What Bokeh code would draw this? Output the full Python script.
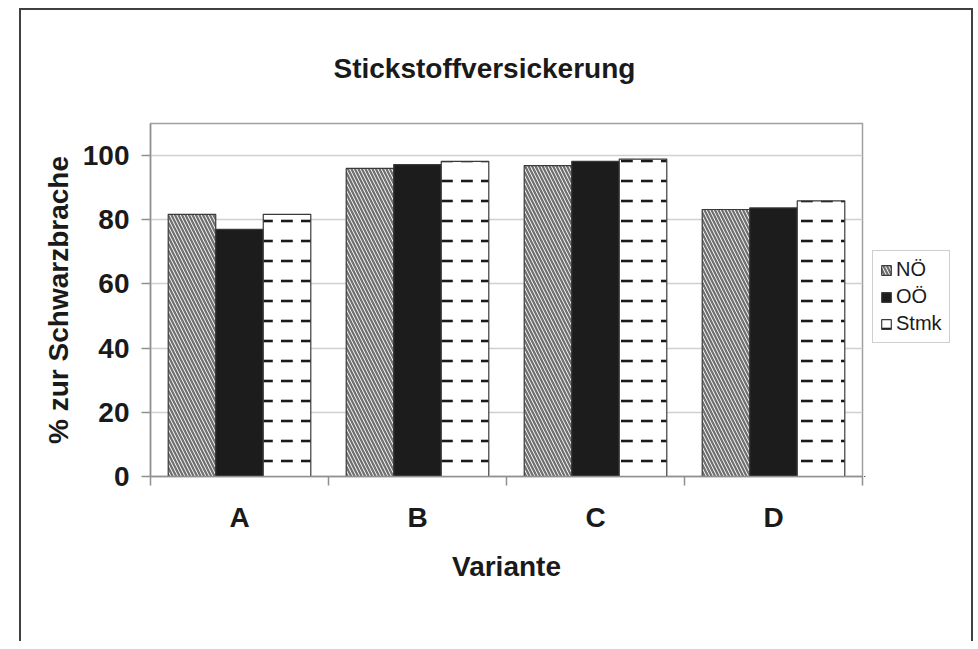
import numpy as np
from bokeh.plotting import figure
from bokeh.layouts import row
from bokeh.models import (ColumnDataSource, FixedTicker, Legend, LegendItem, Range1d, Title)
from bokeh.embed import file_html
from bokeh.resources import INLINE

# ---------------- data ----------------
categories = ["A", "B", "C", "D"]
series_names = ["NÖ", "OÖ", "Stmk"]
noe_values = [81.7, 96.0, 96.9, 83.2]
ooe_values = [77.0, 97.2, 98.2, 83.7]
stmk_values = [81.7, 98.2, 98.9, 85.9]
y_ticks = [0, 20, 40, 60, 80, 100]
title_text = "Stickstoffversickerung"
x_label = "Variante"
y_label = "% zur Schwarzbrache"

FONT = "Liberation Sans"
H = 631
MAIN_W, SIDE_W = 843, 107
BAR_W = 0.267

p = figure(width=MAIN_W, height=H, output_backend="svg", toolbar_location=None,
           x_range=Range1d(-0.5, len(categories) - 0.5), y_range=Range1d(0, 110),
           min_border_left=129, min_border_right=2,
           min_border_top=113, min_border_bottom=165)
p.background_fill_color = "white"
p.border_fill_color = "white"
p.outline_line_color = "#a0a0a0"
p.outline_line_width = 1.5

styles = [
    dict(fill_color="white", hatch_pattern="left_diagonal_line", hatch_color="#707070",
         hatch_scale=7, hatch_weight=2.3),
    dict(fill_color="#1c1c1c"),
    dict(fill_color="white", hatch_pattern="horizontal_dash",
         hatch_color="#1a1a1a", hatch_scale=20, hatch_weight=2.6),
]

xs = np.arange(len(categories))
sources = []
for j, (vals, st) in enumerate(zip([noe_values, ooe_values, stmk_values], styles)):
    src = ColumnDataSource(dict(x=xs + (j - 1) * BAR_W, top=vals))
    sources.append(src)
    p.vbar(x="x", top="top", width=BAR_W, bottom=0, source=src,
           line_color="#3a3a3a", line_width=1.2, **st)

# white-on-white spacer panel right above the plot area (pushes the title upwards)
spacer = Title(text=".", text_font=FONT, text_font_size="28px", text_color="white", standoff=14)
p.add_layout(spacer, "above")

# title (outermost panel above)
p.title.text = title_text
p.title.text_font = FONT
p.title.text_font_size = "28px"
p.title.text_font_style = "bold"
p.title.text_color = "#1a1a1a"
p.title.align = "left"
p.title.offset = 183
p.title.standoff = 10

# x axis
xax = p.xaxis[0]
xax.ticker = FixedTicker(ticks=list(xs), minor_ticks=[i - 0.5 for i in range(len(categories) + 1)])
xax.major_label_overrides = {int(i): c for i, c in zip(xs, categories)}
xax.major_tick_line_color = None
xax.major_tick_out = 8
xax.major_tick_in = 0
xax.minor_tick_out = 9
xax.minor_tick_in = 0
xax.minor_tick_line_color = "#909090"
xax.minor_tick_line_width = 1.5
xax.axis_line_color = "#909090"
xax.axis_line_width = 1.5
xax.major_label_standoff = 16
xax.major_label_text_font = FONT
xax.major_label_text_font_size = "28px"
xax.major_label_text_font_style = "bold"
xax.major_label_text_color = "#1a1a1a"
xax.axis_label = x_label
xax.axis_label_text_font = FONT
xax.axis_label_text_font_size = "28px"
xax.axis_label_text_font_style = "bold"
xax.axis_label_text_color = "#1a1a1a"
xax.axis_label_standoff = 15

# y axis
yax = p.yaxis[0]
yax.ticker = FixedTicker(ticks=y_ticks)
yax.major_tick_out = 9
yax.major_tick_in = 0
yax.major_tick_line_color = "#909090"
yax.major_tick_line_width = 1.5
yax.minor_tick_line_color = None
yax.axis_line_color = "#909090"
yax.axis_line_width = 1.5
yax.major_label_standoff = 12
yax.major_label_text_font = FONT
yax.major_label_text_font_size = "28px"
yax.major_label_text_font_style = "bold"
yax.major_label_text_color = "#1a1a1a"
yax.axis_label = y_label
yax.axis_label_text_font = FONT
yax.axis_label_text_font_size = "28px"
yax.axis_label_text_font_style = "bold"
yax.axis_label_text_color = "#1a1a1a"
yax.axis_label_standoff = 6

p.xgrid.visible = False
p.ygrid.ticker = FixedTicker(ticks=y_ticks)
p.ygrid.grid_line_color = "#d0d0d0"
p.ygrid.grid_line_width = 1.5

# side panel holding the legend (outside the plot area, as in the reference);
# its ranges lie away from the data so only the legend shows
side = figure(width=SIDE_W, height=H, output_backend="svg", toolbar_location=None,
              x_range=Range1d(100, 101), y_range=Range1d(200, 201),
              x_axis_location=None, y_axis_location=None, min_border=0)
side.outline_line_color = None
side.grid.visible = False
side.background_fill_color = "white"
side.border_fill_color = "white"
legend_renderers = [side.vbar(x="x", top="top", width=BAR_W, bottom=0, source=src,
                              line_color="#3a3a3a", line_width=1.2, **st)
                    for src, st in zip(sources, styles)]

legend = Legend(items=[LegendItem(label=n, renderers=[r]) for n, r in zip(series_names, legend_renderers)],
                location=(8, 133))
legend.label_text_font = FONT
legend.label_text_font_size = "20px"
legend.label_text_color = "#1a1a1a"
legend.glyph_width = 12
legend.glyph_height = 12
legend.label_standoff = 4
legend.spacing = 4
legend.padding = 7
legend.margin = 0
legend.border_line_color = "#a0a0a0"
legend.border_line_width = 1.2
legend.background_fill_color = "white"
side.add_layout(legend)

layout = row(p, side, spacing=0,
             styles={"border-left": "2px solid #404040", "border-top": "2px solid #404040",
                     "border-right": "2px solid #404040", "margin-left": "19px", "margin-top": "8px"})

open("out.html", "w").write(file_html(layout, INLINE))
